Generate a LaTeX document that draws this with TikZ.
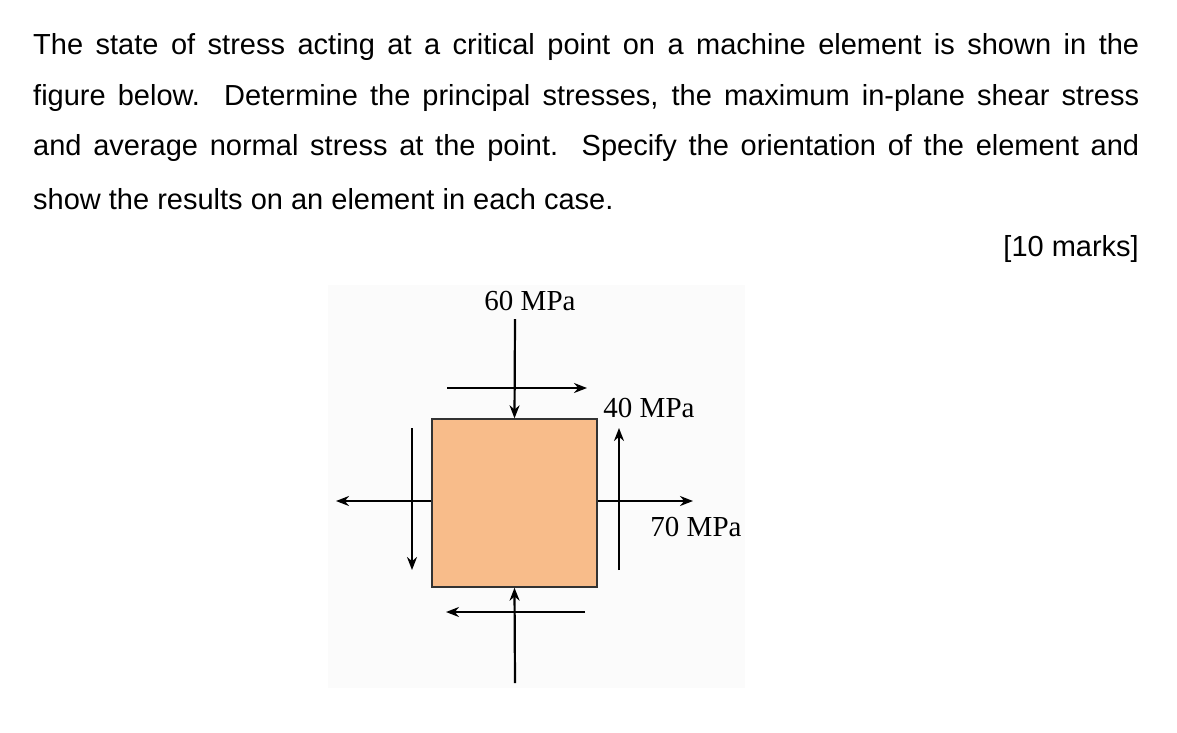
\documentclass[tikz,border=0pt]{standalone}
\usepackage{fontspec}
\setmainfont{Liberation Sans}
\newfontfamily\serifl{Liberation Serif}
\usetikzlibrary{arrows.meta}
\begin{document}
\begin{tikzpicture}[x=1pt,y=-1pt,
  arr/.style={line width=2.2pt,-{Stealth[length=13pt,width=10pt]}},
  txt/.style={anchor=west,inner sep=0pt,font=\fontsize{29}{34}\selectfont},
  lab/.style={inner sep=0pt,font=\serifl\fontsize{29}{32}\selectfont}]
\useasboundingbox (0,0) rectangle (1177,732);
\fill[white] (0,0) rectangle (1177,732);
\fill[black!1.5] (328,285) rectangle (745,688);
\node[txt] (l1) at (33,47) {\makebox[1106pt][s]{The state of stress acting at a critical point on a machine element is shown in the}};
\node[txt] (l2) at (33,98) {\makebox[1106pt][s]{figure below.\ \ Determine the principal stresses, the maximum in-plane shear stress}};
\node[txt] (l3) at (33,148) {\makebox[1106pt][s]{and average normal stress at the point.\ \ Specify the orientation of the element and}};
\node[txt] (l4) at (33,199) {show the results on an element in each case.};
\node[txt,anchor=east] (mk) at (1139,249) {[10 marks]};
\node[draw=black!80,line width=1.4pt,fill={rgb,255:red,248;green,188;blue,138},minimum width=165pt,minimum height=168pt,inner sep=0pt] (box) at (514.5,503) {};
\coordinate (tt) at (515,319);
\draw[arr] (tt) -- (box.north);
\coordinate (bt) at (515,683);
\draw[arr] (bt) -- (box.south);
\coordinate (rt) at (693,501);
\draw[arr] (box.east |- rt) -- (rt);
\coordinate (lt) at (336,501);
\draw[arr] (box.west |- lt) -- (lt);
\coordinate (ts1) at (447,388); \coordinate (ts2) at (587,388);
\draw[arr] (ts1) -- (ts2);
\coordinate (bs1) at (585,612); \coordinate (bs2) at (446,612);
\draw[arr] (bs1) -- (bs2);
\coordinate (rs1) at (619,570); \coordinate (rs2) at (619,428);
\draw[arr] (rs1) -- (rs2);
\coordinate (ls1) at (412,428); \coordinate (ls2) at (412,570);
\draw[arr] (ls1) -- (ls2);
\node[lab] (a) at (530,301) {60 MPa};
\node[lab] (b) at (649,408) {40 MPa};
\node[lab] (c) at (696,527) {70 MPa};
\end{tikzpicture}
\end{document}
